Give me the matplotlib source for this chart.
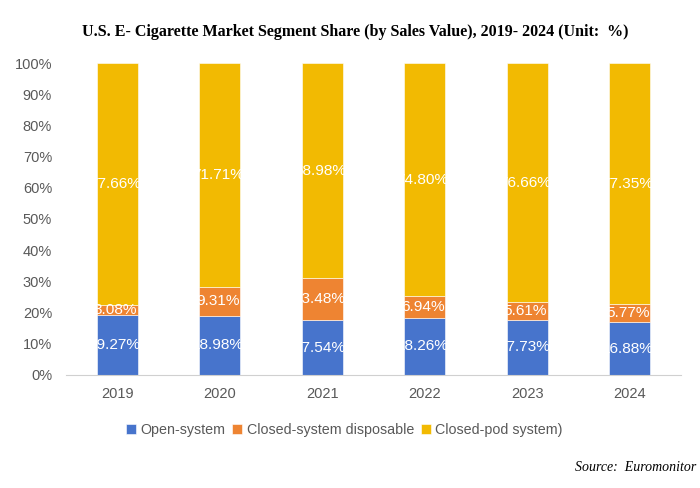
import matplotlib.pyplot as plt
import numpy as np

years = ['2019', '2020', '2021', '2022', '2023', '2024']
open_system = [19.27, 18.98, 17.54, 18.26, 17.73, 16.88]
closed_disposable = [3.08, 9.31, 13.48, 6.94, 5.61, 5.77]
closed_pod = [77.66, 71.71, 68.98, 74.80, 76.66, 77.35]

series = [
    ('Open-system', open_system, '#4774CC'),
    ('Closed-system disposable', closed_disposable, '#EE8432'),
    ('Closed-pod system)', closed_pod, '#F2BA02'),
]

plt.rcParams['font.family'] = ['Liberation Sans', 'DejaVu Sans']

fig = plt.figure(figsize=(7, 4.88), dpi=100)
ax = fig.add_axes([0.0943, 0.2316, 0.8786, 0.6393])

x = np.arange(len(years))
bottom = np.zeros(len(years))
for name, vals, color in series:
    vals = np.array(vals)
    bars = ax.bar(x, vals, 0.4, bottom=bottom, color=color, label=name,
                  edgecolor='white', linewidth=0.4)
    for b, v, btm in zip(bars, vals, bottom):
        # label is wider than the bar and gets cut at the bar edges
        t = ax.text(b.get_x() + b.get_width() / 2 - 0.02, btm + v / 2,
                    f'{v:.2f}%', ha='center', va='center',
                    color='white', fontsize=11.1)
        t.set_clip_path(b)
    bottom += vals

ax.set_xlim(-0.5, len(years) - 0.5)
ax.set_ylim(0, 100)
ax.set_xticks(x)
ax.set_xticklabels(years)
ax.set_yticks(np.arange(0, 101, 10))
ax.set_yticklabels([f'{v}%' for v in range(0, 101, 10)])
ax.tick_params(axis='both', length=0, colors='#595959', labelsize=10.5)
ax.tick_params(axis='x', pad=9)
ax.tick_params(axis='y', pad=10)
for s in ['top', 'right', 'left']:
    ax.spines[s].set_visible(False)
ax.spines['bottom'].set_color('#D0D0D0')

fig.text(0.508, 0.935, 'U.S. E- Cigarette Market Segment Share (by Sales Value), 2019- 2024 (Unit:  %)',
         ha='center', va='center', fontsize=11.5, fontweight='bold',
         family='Liberation Serif')

leg = fig.legend(loc='center', bbox_to_anchor=(0.492, 0.119), ncol=3, frameon=False,
                 fontsize=10.3, handlelength=0.7, handleheight=0.7, handletextpad=0.3,
                 columnspacing=0.5)
for t in leg.get_texts():
    t.set_color('#595959')

fig.text(0.995, 0.043, 'Source:  Euromonitor', ha='right', va='center',
         fontsize=10, style='italic', family='Liberation Serif')

fig.savefig('out.png', dpi=100)
